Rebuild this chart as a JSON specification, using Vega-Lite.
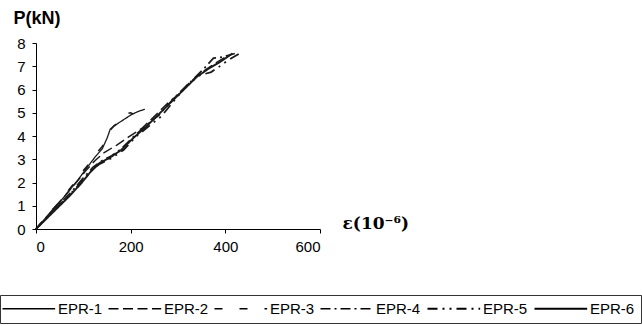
{
  "$schema": "https://vega.github.io/schema/vega-lite/v6.json",
  "autosize": "none",
  "width": 284,
  "height": 186,
  "padding": {"left": 36, "top": 43, "right": 322, "bottom": 97},
  "background": "white",
  "config": {
    "view": {"stroke": null},
    "font": "Liberation Sans"
  },
  "data": {
    "values": [
      {"series": "EPR-1", "e": 0, "p": 0}, {"series": "EPR-1", "e": 15, "p": 0.35}, {"series": "EPR-1", "e": 30, "p": 0.7}, {"series": "EPR-1", "e": 50, "p": 1.15}, {"series": "EPR-1", "e": 70, "p": 1.65}, {"series": "EPR-1", "e": 90, "p": 2.15}, {"series": "EPR-1", "e": 110, "p": 2.7}, {"series": "EPR-1", "e": 125, "p": 3.1}, {"series": "EPR-1", "e": 140, "p": 3.45}, {"series": "EPR-1", "e": 150, "p": 3.9}, {"series": "EPR-1", "e": 157, "p": 4.3}, {"series": "EPR-1", "e": 170, "p": 4.5}, {"series": "EPR-1", "e": 185, "p": 4.7}, {"series": "EPR-1", "e": 200, "p": 4.9}, {"series": "EPR-1", "e": 215, "p": 5.05}, {"series": "EPR-1", "e": 230, "p": 5.15},

      {"series": "EPR-2", "e": 0, "p": 0}, {"series": "EPR-2", "e": 20, "p": 0.45}, {"series": "EPR-2", "e": 40, "p": 0.95}, {"series": "EPR-2", "e": 60, "p": 1.4}, {"series": "EPR-2", "e": 85, "p": 2.0}, {"series": "EPR-2", "e": 105, "p": 2.5}, {"series": "EPR-2", "e": 125, "p": 2.95}, {"series": "EPR-2", "e": 145, "p": 3.3}, {"series": "EPR-2", "e": 170, "p": 3.6}, {"series": "EPR-2", "e": 195, "p": 3.95}, {"series": "EPR-2", "e": 225, "p": 4.35}, {"series": "EPR-2", "e": 255, "p": 4.95}, {"series": "EPR-2", "e": 280, "p": 5.45}, {"series": "EPR-2", "e": 305, "p": 5.85}, {"series": "EPR-2", "e": 330, "p": 6.4}, {"series": "EPR-2", "e": 355, "p": 6.8}, {"series": "EPR-2", "e": 380, "p": 7.15}, {"series": "EPR-2", "e": 405, "p": 7.45},

      {"series": "EPR-3", "e": 0, "p": 0}, {"series": "EPR-3", "e": 12, "p": 0.3}, {"series": "EPR-3", "e": 28, "p": 0.7}, {"series": "EPR-3", "e": 45, "p": 1.05}, {"series": "EPR-3", "e": 62, "p": 1.5}, {"series": "EPR-3", "e": 80, "p": 1.95}, {"series": "EPR-3", "e": 95, "p": 2.4}, {"series": "EPR-3", "e": 110, "p": 2.75}, {"series": "EPR-3", "e": 125, "p": 3.2}, {"series": "EPR-3", "e": 140, "p": 3.55}, {"series": "EPR-3", "e": 150, "p": 3.85}, {"series": "EPR-3", "e": 155, "p": 4.2}, {"series": "EPR-3", "e": 165, "p": 4.45}, {"series": "EPR-3", "e": 178, "p": 4.6}, {"series": "EPR-3", "e": 190, "p": 4.95}, {"series": "EPR-3", "e": 200, "p": 5.0}, {"series": "EPR-3", "e": 205, "p": 4.95},

      {"series": "EPR-4", "e": 0, "p": 0}, {"series": "EPR-4", "e": 25, "p": 0.55}, {"series": "EPR-4", "e": 50, "p": 1.1}, {"series": "EPR-4", "e": 75, "p": 1.6}, {"series": "EPR-4", "e": 100, "p": 2.2}, {"series": "EPR-4", "e": 120, "p": 2.65}, {"series": "EPR-4", "e": 140, "p": 2.95}, {"series": "EPR-4", "e": 160, "p": 3.15}, {"series": "EPR-4", "e": 180, "p": 3.45}, {"series": "EPR-4", "e": 205, "p": 3.95}, {"series": "EPR-4", "e": 235, "p": 4.5}, {"series": "EPR-4", "e": 260, "p": 4.9}, {"series": "EPR-4", "e": 290, "p": 5.6}, {"series": "EPR-4", "e": 315, "p": 6.1}, {"series": "EPR-4", "e": 335, "p": 6.5}, {"series": "EPR-4", "e": 355, "p": 6.9}, {"series": "EPR-4", "e": 375, "p": 7.35}, {"series": "EPR-4", "e": 395, "p": 7.4}, {"series": "EPR-4", "e": 420, "p": 7.55},

      {"series": "EPR-5", "e": 0, "p": 0}, {"series": "EPR-5", "e": 22, "p": 0.5}, {"series": "EPR-5", "e": 45, "p": 0.95}, {"series": "EPR-5", "e": 70, "p": 1.45}, {"series": "EPR-5", "e": 95, "p": 2.0}, {"series": "EPR-5", "e": 118, "p": 2.55}, {"series": "EPR-5", "e": 135, "p": 2.8}, {"series": "EPR-5", "e": 160, "p": 3.05}, {"series": "EPR-5", "e": 185, "p": 3.4}, {"series": "EPR-5", "e": 210, "p": 3.95}, {"series": "EPR-5", "e": 240, "p": 4.45}, {"series": "EPR-5", "e": 265, "p": 4.85}, {"series": "EPR-5", "e": 295, "p": 5.6}, {"series": "EPR-5", "e": 320, "p": 6.2}, {"series": "EPR-5", "e": 345, "p": 6.6}, {"series": "EPR-5", "e": 370, "p": 6.75}, {"series": "EPR-5", "e": 385, "p": 6.95}, {"series": "EPR-5", "e": 405, "p": 7.25}, {"series": "EPR-5", "e": 430, "p": 7.55},

      {"series": "EPR-6", "e": 0, "p": 0}, {"series": "EPR-6", "e": 20, "p": 0.4}, {"series": "EPR-6", "e": 45, "p": 0.9}, {"series": "EPR-6", "e": 70, "p": 1.4}, {"series": "EPR-6", "e": 95, "p": 1.95}, {"series": "EPR-6", "e": 115, "p": 2.45}, {"series": "EPR-6", "e": 135, "p": 2.85}, {"series": "EPR-6", "e": 155, "p": 3.05}, {"series": "EPR-6", "e": 180, "p": 3.4}, {"series": "EPR-6", "e": 205, "p": 3.9}, {"series": "EPR-6", "e": 235, "p": 4.45}, {"series": "EPR-6", "e": 265, "p": 5.05}, {"series": "EPR-6", "e": 290, "p": 5.55}, {"series": "EPR-6", "e": 315, "p": 6.05}, {"series": "EPR-6", "e": 340, "p": 6.55}, {"series": "EPR-6", "e": 365, "p": 6.9}, {"series": "EPR-6", "e": 390, "p": 7.2}, {"series": "EPR-6", "e": 415, "p": 7.55}
    ]
  },
  "mark": {"type": "line", "color": "#1a1a1a"},
  "encoding": {
    "x": {
      "field": "e", "type": "quantitative",
      "scale": {"domain": [0, 600], "nice": false},
      "axis": {
        "values": [0, 200, 400, 600],
        "grid": false,
        "domainColor": "#000", "tickColor": "#000", "tickSize": 4,
        "labelFontSize": 15, "labelColor": "#000", "labelPadding": 6,
        "labelFont": "Liberation Sans",
        "title": "ε(10⁻⁶)",
        "titleFont": "DejaVu Serif", "titleFontSize": 17, "titleFontWeight": "bold", "titleColor": "#000",
        "titleX": 306, "titleY": -6, "titleAlign": "left", "titleBaseline": "middle", "titleAnchor": null
      }
    },
    "y": {
      "field": "p", "type": "quantitative",
      "scale": {"domain": [0, 8], "nice": false},
      "axis": {
        "values": [0, 1, 2, 3, 4, 5, 6, 7, 8],
        "grid": false,
        "domainColor": "#000", "tickColor": "#000", "tickSize": 4,
        "labelFontSize": 15, "labelColor": "#000", "labelPadding": 7,
        "labelFont": "Liberation Sans",
        "title": "P(kN)",
        "titleFont": "Liberation Sans", "titleFontSize": 18, "titleFontWeight": "bold", "titleColor": "#000",
        "titleAngle": 0, "titleX": -23, "titleY": -25, "titleAlign": "left", "titleBaseline": "middle"
      }
    },
    "detail": {"field": "series"},
    "strokeDash": {
      "field": "series", "type": "nominal",
      "scale": {
        "domain": ["EPR-1", "EPR-2", "EPR-3", "EPR-4", "EPR-5", "EPR-6"],
        "range": [[1, 0], [10, 4.5], [8, 17], [10, 4, 2, 4], [10, 5, 2, 5, 2, 5], [1, 0]]
      },
      "legend": {
        "orient": "none", "legendX": -36, "legendY": 252,
        "direction": "horizontal", "columns": 6, "title": null,
        "padding": 6, "strokeColor": "#333",
        "symbolType": "M0,0H8.1", "symbolSize": 169, "symbolStrokeColor": "#000", "symbolOffset": -11,
        "labelFont": "Liberation Sans", "labelFontSize": 15, "labelColor": "#000",
        "labelOffset": 48, "columnPadding": 2
      }
    },
    "strokeWidth": {
      "field": "series", "type": "ordinal",
      "scale": {
        "domain": ["EPR-1", "EPR-2", "EPR-3", "EPR-4", "EPR-5", "EPR-6"],
        "range": [1.3, 1.9, 4, 1.9, 1.9, 2.7]
      },
      "legend": {
        "orient": "none", "legendX": -36, "legendY": 252,
        "direction": "horizontal", "columns": 6, "title": null,
        "padding": 6, "strokeColor": "#333",
        "symbolType": "M0,0H8.1", "symbolSize": 169, "symbolStrokeColor": "#000", "symbolOffset": -11,
        "labelFont": "Liberation Sans", "labelFontSize": 15, "labelColor": "#000",
        "labelOffset": 48, "columnPadding": 2
      }
    }
  }
}
